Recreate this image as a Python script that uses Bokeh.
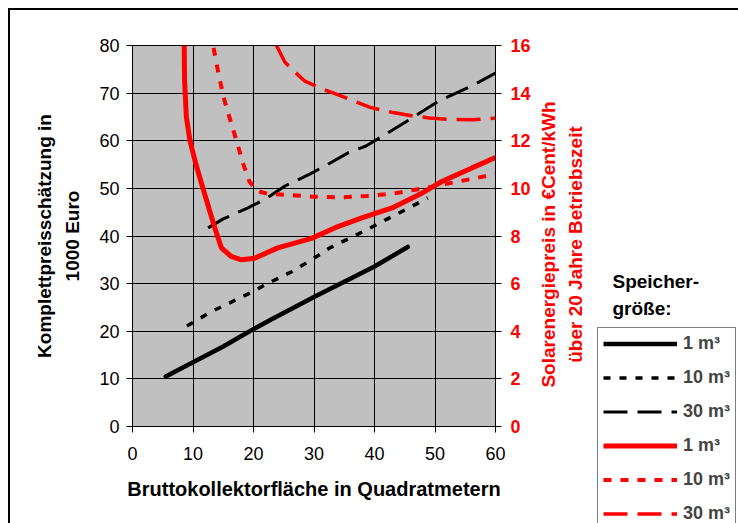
from bokeh.plotting import figure
from bokeh.layouts import row
from bokeh.models import Range1d, LinearAxis, FixedTicker, Legend, LegendItem, Label
from bokeh.embed import file_html
from bokeh.resources import INLINE

# ---- tick labels / axes ----
x_ticks = [0, 10, 20, 30, 40, 50, 60]
cost_ticks = [0, 10, 20, 30, 40, 50, 60, 70, 80]
price_ticks = [0, 2, 4, 6, 8, 10, 12, 14, 16]

# ---- series: Komplettpreis (1000 Euro), left axis ----
area_cost_1 = [5.5, 10, 15, 18, 20.2, 23, 30, 35, 40, 45.5]
cost_1 = [10.5, 13.5, 16.8, 19.0, 20.6, 22.5, 27.2, 30.4, 33.6, 37.7]

area_cost_10 = [9, 13, 19.4, 22, 26.3, 29.6, 32.6, 36, 39, 42, 45.7, 48.8]
cost_10 = [21.1, 24.1, 28.0, 29.8, 32.5, 35.0, 37.5, 39.6, 41.5, 43.5, 45.9, 48.0]

area_cost_30 = [12.5, 15, 19.1, 22, 25.2, 29.3, 31.8, 35.7, 38.6, 44.6, 50.7, 56.2, 60]
cost_30 = [41.7, 43.6, 45.9, 47.8, 50.5, 53.0, 54.7, 57.5, 58.9, 63.5, 68.4, 71.6, 74.2]

# ---- series: Solarenergiepreis (Cent/kWh), right axis ----
area_price_1 = [8.55, 8.6, 8.9, 9.5, 10.5, 11.3, 12.7, 13.6, 14.7, 16.3, 18.0, 20.2,
                24.0, 29.6, 33.5, 37.9, 42.9, 47.9, 51.2, 56.2, 60.0]
price_1 = [16.0, 14.6, 13.0, 12.0, 11.0, 10.3, 9.1, 8.35, 7.5, 7.14, 7.0, 7.07,
           7.5, 7.9, 8.35, 8.76, 9.18, 9.81, 10.3, 10.87, 11.3]

area_price_10 = [13.4, 14.3, 15.2, 16.0, 17.2, 18.2, 19.3, 20.5, 22.4, 26, 30, 34,
                 38.8, 43.5, 48, 52.9, 56.5, 60]
price_10 = [15.9, 14.7, 13.7, 13.0, 12.0, 11.1, 10.3, 9.9, 9.77, 9.72, 9.65, 9.62,
            9.68, 9.8, 10.0, 10.24, 10.42, 10.6]

area_price_30 = [23.8, 25.2, 27, 28.5, 31.3, 33.8, 36.3, 39.3, 42.8, 46.2, 49, 52.3, 56.2, 60]
price_30 = [16.0, 15.3, 14.85, 14.5, 14.18, 13.95, 13.7, 13.4, 13.2, 13.05, 12.96, 12.9, 12.88, 12.95]

legend_labels = ["1 m³", "10 m³", "30 m³", "1 m³", "10 m³", "30 m³"]

FONT = "Liberation Sans"

series = [
    (area_cost_1, cost_1, "black", 4.5, "solid", "default"),
    (area_cost_10, cost_10, "black", 3.5, "7 9", "default"),
    (area_cost_30, cost_30, "black", 3, "24 10", "default"),
    (area_price_1, price_1, "red", 5, "solid", "price"),
    (area_price_10, price_10, "red", 4, "8 9", "price"),
    (area_price_30, price_30, "red", 3.5, "24 10", "price"),
]

# ================= main chart =================
p = figure(frame_width=361, frame_height=379,
           min_border_left=122, min_border_right=39, min_border_top=35, min_border_bottom=99,
           x_range=Range1d(0, 60), y_range=Range1d(0, 80),
           output_backend="svg", toolbar_location=None)
p.styles = {"border-left": "2px solid black", "border-top": "2px solid black"}
p.extra_y_ranges = {"price": Range1d(0, 16)}
p.background_fill_color = "#C0C0C0"
p.border_fill_color = "white"
p.outline_line_color = "black"

p.xaxis.ticker = FixedTicker(ticks=x_ticks)
p.yaxis.ticker = FixedTicker(ticks=cost_ticks)
for ax in [p.xaxis[0], p.yaxis[0]]:
    ax.axis_line_color = "black"
    ax.major_tick_line_color = "black"
    ax.major_tick_out = 6
    ax.major_tick_in = 0
    ax.minor_tick_out = 0
    ax.minor_tick_in = 0
    ax.major_label_text_font = FONT
    ax.major_label_text_font_size = "18px"
    ax.major_label_text_color = "black"
    ax.axis_label_text_font = FONT
    ax.axis_label_text_font_style = "bold"
    ax.axis_label_text_color = "black"
p.yaxis.major_label_standoff = 7
p.xaxis.major_label_standoff = 14
p.yaxis.axis_label = "Komplettpreisschätzung in\n1000 Euro"
p.yaxis.axis_label_text_font_size = "19px"
p.yaxis.axis_label_text_line_height = 1.35
p.yaxis.axis_label_standoff = 13
p.xaxis.axis_label = "Bruttokollektorfläche in Quadratmetern"
p.xaxis.axis_label_text_font_size = "20px"
p.xaxis.axis_label_standoff = 15

raxis = LinearAxis(y_range_name="price", ticker=FixedTicker(ticks=price_ticks))
raxis.axis_line_color = "black"
raxis.major_tick_line_color = "black"
raxis.major_tick_out = 6
raxis.major_tick_in = 0
raxis.minor_tick_out = 0
raxis.minor_tick_in = 0
raxis.major_label_text_font = FONT
raxis.major_label_text_font_size = "18px"
raxis.major_label_text_font_style = "bold"
raxis.major_label_text_color = "red"
raxis.major_label_standoff = 9
p.add_layout(raxis, "right")

p.xgrid.ticker = FixedTicker(ticks=x_ticks)
p.ygrid.ticker = FixedTicker(ticks=cost_ticks)
for g in [p.xgrid[0], p.ygrid[0]]:
    g.grid_line_color = "black"
    g.grid_line_width = 1
    g.grid_line_alpha = 1

for xs, ys, col, w, dash, rng in series:
    p.line(xs, ys, line_color=col, line_width=w, line_dash=dash, y_range_name=rng,
           line_cap="round" if (dash == "solid" and col == "black") else "butt")

# ================= side panel: right title, caption, legend =================
s = figure(frame_width=206, frame_height=478,
           min_border_left=0, min_border_right=0, min_border_top=35, min_border_bottom=0,
           x_range=Range1d(0, 1), y_range=Range1d(0, 1),
           x_axis_type=None, y_axis_type=None,
           output_backend="svg", toolbar_location=None)
s.styles = {"border-top": "2px solid black"}
s.background_fill_color = "white"
s.border_fill_color = "white"
s.outline_line_color = None
s.xgrid.visible = False
s.ygrid.visible = False

# legend keys: the same series, drawn in this panel's own (non-overlapping) ranges
items = []
for (xs, ys, col, w, dash, rng), lab in zip(series, legend_labels):
    r = s.line(xs, ys, line_color=col, line_width=w, line_dash=dash)
    items.append(LegendItem(label=lab, renderers=[r]))

legend = Legend(items=items, location=(65, -5))
legend.glyph_width = 74
legend.glyph_height = 21
legend.label_height = 21
legend.spacing = 13
legend.padding = 5
legend.margin = 0
legend.label_standoff = 6
legend.label_text_font = FONT
legend.label_text_font_size = "18px"
legend.label_text_font_style = "bold"
legend.border_line_color = "black"
legend.border_line_width = 1
legend.background_fill_color = "white"
legend.background_fill_alpha = 1
s.add_layout(legend, "center")


def add_text(fig, txt, x, y, angle=0, color="black", size="19px", align="center"):
    fig.add_layout(Label(x=x, y=y, x_units="screen", y_units="screen", text=txt,
                         angle=angle, text_align=align, text_baseline="middle",
                         text_font=FONT, text_font_size=size, text_font_style="bold",
                         text_color=color))


add_text(s, "Solarenergiepreis in €Cent/kWh", 16, 281, angle=1.5708, color="red")
add_text(s, "über 20 Jahre Betriebszeit", 43, 281, angle=1.5708, color="red")
add_text(s, "Speicher-", 80, 244, align="left")
add_text(s, "größe:", 80, 217, align="left")

layout = row(p, s)
layout.styles = {"margin-left": "8px", "margin-top": "8px"}

open("out.html", "w").write(file_html(layout, INLINE))
